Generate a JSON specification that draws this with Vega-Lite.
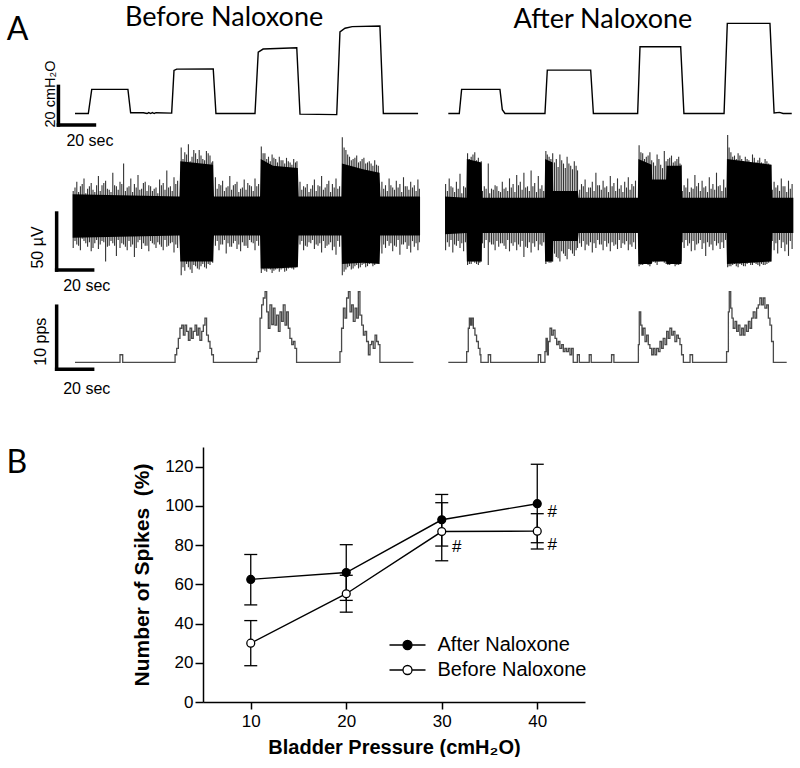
{
"$schema":"https://vega.github.io/schema/vega-lite/v6.json",
"padding":0,
"background":"white",
"columns":2,
"spacing":0,
"bounds":"flush",
"resolve":{"scale":{"x":"independent","y":"independent","fill":"independent"},"legend":{"fill":"independent"}},
"config":{"view":{"stroke":null},"font":"Liberation Sans","text":{"color":"black"}},
"datasets":{
"pres":[
{"side":"before","t":0,"v":0},{"side":"before","t":7.4,"v":0},{"side":"before","t":9.3,"v":12.5},{"side":"before","t":29.4,"v":12.5},{"side":"before","t":30.9,"v":0.4},{"side":"before","t":38,"v":0.4},{"side":"before","t":40,"v":0},{"side":"before","t":41,"v":0.5},{"side":"before","t":42,"v":0},{"side":"before","t":43,"v":0.5},{"side":"before","t":44,"v":0},{"side":"before","t":45,"v":0.4},{"side":"before","t":53.7,"v":0.2},{"side":"before","t":55,"v":22.3},{"side":"before","t":56.5,"v":23},{"side":"before","t":76.8,"v":23.1},{"side":"before","t":78.3,"v":0},{"side":"before","t":100,"v":0},{"side":"before","t":101.8,"v":31.8},{"side":"before","t":104.5,"v":33.4},{"side":"before","t":123.2,"v":34.1},{"side":"before","t":125,"v":-0.3},{"side":"before","t":145.4,"v":-0.6},{"side":"before","t":147.2,"v":42.3},{"side":"before","t":150,"v":44.2},{"side":"before","t":154,"v":45},{"side":"before","t":169.4,"v":45.3},{"side":"before","t":171.3,"v":0},{"side":"before","t":190.6,"v":0},
{"side":"after","t":0,"v":0},{"side":"after","t":6.1,"v":0},{"side":"after","t":7.4,"v":12.5},{"side":"after","t":28.7,"v":12.5},{"side":"after","t":30,"v":2},{"side":"after","t":31.5,"v":0},{"side":"after","t":53.7,"v":0},{"side":"after","t":55,"v":22.5},{"side":"after","t":79.1,"v":22.5},{"side":"after","t":80.6,"v":0},{"side":"after","t":105.2,"v":0},{"side":"after","t":106.5,"v":34.6},{"side":"after","t":129.1,"v":34.6},{"side":"after","t":130.9,"v":0},{"side":"after","t":153.2,"v":0},{"side":"after","t":155,"v":46.7},{"side":"after","t":178.7,"v":46.7},{"side":"after","t":181,"v":0.3},{"side":"after","t":184,"v":0.6},{"side":"after","t":186,"v":0},{"side":"after","t":190.8,"v":0}
],
"core":[
{"side":"before","t":-1.3,"lo":-19,"hi":19},{"side":"before","t":58,"lo":-17,"hi":17},{"side":"before","t":58.5,"lo":-40,"hi":48},{"side":"before","t":76.7,"lo":-40,"hi":45},{"side":"before","t":77.2,"lo":-17,"hi":17},{"side":"before","t":102.8,"lo":-17,"hi":17},{"side":"before","t":103.2,"lo":-46,"hi":50},{"side":"before","t":110,"lo":-46,"hi":44},{"side":"before","t":123.8,"lo":-45,"hi":42},{"side":"before","t":124.3,"lo":-17,"hi":17},{"side":"before","t":148,"lo":-17,"hi":17},{"side":"before","t":148.3,"lo":-42,"hi":46},{"side":"before","t":160,"lo":-41,"hi":41},{"side":"before","t":169.2,"lo":-42,"hi":38},{"side":"before","t":169.7,"lo":-17,"hi":17},{"side":"before","t":191.7,"lo":-17,"hi":17},
{"side":"after","t":-1.8,"lo":-16,"hi":17},{"side":"after","t":10,"lo":-15,"hi":16},{"side":"after","t":10.3,"lo":-40,"hi":50},{"side":"after","t":18.4,"lo":-40,"hi":47},{"side":"after","t":18.8,"lo":-15,"hi":16},{"side":"after","t":53.5,"lo":-15,"hi":16},{"side":"after","t":53.8,"lo":-40,"hi":50},{"side":"after","t":58,"lo":-40,"hi":47},{"side":"after","t":58.3,"lo":-22,"hi":22},{"side":"after","t":72,"lo":-22,"hi":22},{"side":"after","t":72.4,"lo":-15,"hi":16},{"side":"after","t":105.3,"lo":-15,"hi":16},{"side":"after","t":105.6,"lo":-42,"hi":50},{"side":"after","t":113,"lo":-42,"hi":45},{"side":"after","t":113.3,"lo":-40,"hi":32},{"side":"after","t":121,"lo":-40,"hi":32},{"side":"after","t":121.3,"lo":-42,"hi":44},{"side":"after","t":129.5,"lo":-42,"hi":44},{"side":"after","t":129.9,"lo":-15,"hi":16},{"side":"after","t":154.5,"lo":-15,"hi":16},{"side":"after","t":154.8,"lo":-42,"hi":50},{"side":"after","t":179.5,"lo":-40,"hi":45},{"side":"after","t":179.9,"lo":-15,"hi":16},{"side":"after","t":191.7,"lo":-15,"hi":16}
],
"spk":[
{"side":"before","t":-1,"hi":22,"lo":-28},{"side":"before","t":1,"hi":30,"lo":-25},{"side":"before","t":3,"hi":26,"lo":-30},{"side":"before","t":5,"hi":33,"lo":-22},{"side":"before","t":7,"hi":24,"lo":-27},{"side":"before","t":9,"hi":29,"lo":-31},{"side":"before","t":11,"hi":21,"lo":-24},{"side":"before","t":13,"hi":35,"lo":-29},{"side":"before","t":15,"hi":27,"lo":-22},{"side":"before","t":17,"hi":31,"lo":-40},{"side":"before","t":19,"hi":23,"lo":-26},{"side":"before","t":21,"hi":38,"lo":-24},{"side":"before","t":23,"hi":26,"lo":-35},{"side":"before","t":25,"hi":30,"lo":-28},{"side":"before","t":27,"hi":46,"lo":-25},{"side":"before","t":29,"hi":25,"lo":-30},{"side":"before","t":31,"hi":33,"lo":-27},{"side":"before","t":33,"hi":28,"lo":-36},{"side":"before","t":35,"hi":36,"lo":-23},{"side":"before","t":37,"hi":24,"lo":-29},{"side":"before","t":39,"hi":30,"lo":-26},{"side":"before","t":41,"hi":27,"lo":-31},{"side":"before","t":43,"hi":22,"lo":-24},{"side":"before","t":45,"hi":25,"lo":-28},{"side":"before","t":47,"hi":32,"lo":-25},{"side":"before","t":49,"hi":29,"lo":-30},{"side":"before","t":51,"hi":40,"lo":-27},{"side":"before","t":53,"hi":26,"lo":-24},{"side":"before","t":55,"hi":34,"lo":-32},{"side":"before","t":57,"hi":31,"lo":-28},
{"side":"before","t":0,"hi":25,"lo":-22},{"side":"before","t":2,"hi":21,"lo":-26},{"side":"before","t":4,"hi":28,"lo":-20},{"side":"before","t":6,"hi":20,"lo":-24},{"side":"before","t":8,"hi":26,"lo":-23},{"side":"before","t":10,"hi":23,"lo":-28},{"side":"before","t":12,"hi":27,"lo":-21},{"side":"before","t":14,"hi":22,"lo":-25},{"side":"before","t":16,"hi":29,"lo":-23},{"side":"before","t":18,"hi":24,"lo":-27},{"side":"before","t":20,"hi":21,"lo":-22},{"side":"before","t":22,"hi":27,"lo":-26},{"side":"before","t":24,"hi":23,"lo":-21},{"side":"before","t":26,"hi":28,"lo":-24},{"side":"before","t":28,"hi":22,"lo":-27},{"side":"before","t":30,"hi":26,"lo":-22},{"side":"before","t":32,"hi":21,"lo":-25},{"side":"before","t":34,"hi":25,"lo":-28},{"side":"before","t":36,"hi":23,"lo":-21},{"side":"before","t":38,"hi":29,"lo":-24},{"side":"before","t":40,"hi":22,"lo":-26},{"side":"before","t":42,"hi":26,"lo":-22},{"side":"before","t":44,"hi":24,"lo":-25},{"side":"before","t":46,"hi":20,"lo":-23},{"side":"before","t":48,"hi":27,"lo":-27},{"side":"before","t":50,"hi":23,"lo":-21},{"side":"before","t":52,"hi":25,"lo":-26},{"side":"before","t":54,"hi":22,"lo":-23},{"side":"before","t":56,"hi":28,"lo":-25},
{"side":"before","t":59,"hi":60,"lo":-52},{"side":"before","t":61,"hi":56,"lo":-48},{"side":"before","t":63,"hi":63,"lo":-45},{"side":"before","t":65,"hi":52,"lo":-50},{"side":"before","t":67,"hi":55,"lo":-44},{"side":"before","t":69,"hi":58,"lo":-47},{"side":"before","t":71,"hi":50,"lo":-42},{"side":"before","t":73,"hi":57,"lo":-46},{"side":"before","t":75,"hi":53,"lo":-43},{"side":"before","t":76.5,"hi":48,"lo":-41},
{"side":"before","t":60,"hi":50,"lo":-45},{"side":"before","t":62,"hi":54,"lo":-42},{"side":"before","t":64,"hi":48,"lo":-47},{"side":"before","t":66,"hi":58,"lo":-43},{"side":"before","t":68,"hi":50,"lo":-46},{"side":"before","t":70,"hi":53,"lo":-44},{"side":"before","t":72,"hi":49,"lo":-45},{"side":"before","t":74,"hi":55,"lo":-42},{"side":"before","t":76,"hi":47,"lo":-40},
{"side":"before","t":78,"hi":34,"lo":-26},{"side":"before","t":80,"hi":28,"lo":-30},{"side":"before","t":82,"hi":31,"lo":-25},{"side":"before","t":84,"hi":25,"lo":-33},{"side":"before","t":86,"hi":35,"lo":-27},{"side":"before","t":88,"hi":27,"lo":-24},{"side":"before","t":90,"hi":30,"lo":-29},{"side":"before","t":92,"hi":24,"lo":-31},{"side":"before","t":94,"hi":32,"lo":-26},{"side":"before","t":96,"hi":29,"lo":-28},{"side":"before","t":98,"hi":26,"lo":-23},{"side":"before","t":100,"hi":33,"lo":-30},{"side":"before","t":102,"hi":28,"lo":-26},
{"side":"before","t":79,"hi":24,"lo":-22},{"side":"before","t":81,"hi":27,"lo":-25},{"side":"before","t":83,"hi":22,"lo":-21},{"side":"before","t":85,"hi":26,"lo":-24},{"side":"before","t":87,"hi":23,"lo":-27},{"side":"before","t":89,"hi":28,"lo":-22},{"side":"before","t":91,"hi":21,"lo":-25},{"side":"before","t":93,"hi":25,"lo":-23},{"side":"before","t":95,"hi":23,"lo":-26},{"side":"before","t":97,"hi":27,"lo":-21},{"side":"before","t":99,"hi":22,"lo":-24},{"side":"before","t":101,"hi":26,"lo":-22},
{"side":"before","t":103.5,"hi":61,"lo":-50},{"side":"before","t":105.5,"hi":55,"lo":-48},{"side":"before","t":107.5,"hi":52,"lo":-46},{"side":"before","t":109.5,"hi":54,"lo":-50},{"side":"before","t":111.5,"hi":50,"lo":-47},{"side":"before","t":113.5,"hi":52,"lo":-49},{"side":"before","t":115.5,"hi":49,"lo":-46},{"side":"before","t":117.5,"hi":51,"lo":-48},{"side":"before","t":119.5,"hi":47,"lo":-45},{"side":"before","t":121.5,"hi":50,"lo":-47},{"side":"before","t":123.3,"hi":48,"lo":-44},
{"side":"before","t":104.5,"hi":55,"lo":-47},{"side":"before","t":106.5,"hi":50,"lo":-49},{"side":"before","t":108.5,"hi":48,"lo":-47},{"side":"before","t":110.5,"hi":51,"lo":-48},{"side":"before","t":112.5,"hi":47,"lo":-46},{"side":"before","t":114.5,"hi":49,"lo":-47},{"side":"before","t":116.5,"hi":46,"lo":-49},{"side":"before","t":118.5,"hi":48,"lo":-46},{"side":"before","t":120.5,"hi":45,"lo":-46},{"side":"before","t":122.5,"hi":47,"lo":-45},
{"side":"before","t":125,"hi":30,"lo":-25},{"side":"before","t":127,"hi":26,"lo":-30},{"side":"before","t":129,"hi":28,"lo":-27},{"side":"before","t":131,"hi":24,"lo":-24},{"side":"before","t":133,"hi":32,"lo":-29},{"side":"before","t":135,"hi":27,"lo":-26},{"side":"before","t":137,"hi":35,"lo":-32},{"side":"before","t":139,"hi":25,"lo":-28},{"side":"before","t":141,"hi":31,"lo":-25},{"side":"before","t":143,"hi":28,"lo":-30},{"side":"before","t":145,"hi":33,"lo":-34},{"side":"before","t":147,"hi":26,"lo":-27},
{"side":"before","t":126,"hi":23,"lo":-22},{"side":"before","t":128,"hi":25,"lo":-26},{"side":"before","t":130,"hi":21,"lo":-23},{"side":"before","t":132,"hi":27,"lo":-21},{"side":"before","t":134,"hi":22,"lo":-25},{"side":"before","t":136,"hi":26,"lo":-24},{"side":"before","t":138,"hi":23,"lo":-22},{"side":"before","t":140,"hi":28,"lo":-26},{"side":"before","t":142,"hi":21,"lo":-23},{"side":"before","t":144,"hi":25,"lo":-27},{"side":"before","t":146,"hi":24,"lo":-22},
{"side":"before","t":148.5,"hi":69,"lo":-52},{"side":"before","t":150.5,"hi":58,"lo":-47},{"side":"before","t":152.5,"hi":52,"lo":-44},{"side":"before","t":154.5,"hi":50,"lo":-46},{"side":"before","t":156.5,"hi":53,"lo":-43},{"side":"before","t":158.5,"hi":48,"lo":-45},{"side":"before","t":160.5,"hi":51,"lo":-42},{"side":"before","t":162.5,"hi":47,"lo":-44},{"side":"before","t":164.5,"hi":46,"lo":-41},{"side":"before","t":166.5,"hi":49,"lo":-43},{"side":"before","t":168.5,"hi":44,"lo":-40},
{"side":"before","t":149.5,"hi":60,"lo":-49},{"side":"before","t":151.5,"hi":54,"lo":-45},{"side":"before","t":153.5,"hi":49,"lo":-47},{"side":"before","t":155.5,"hi":51,"lo":-44},{"side":"before","t":157.5,"hi":47,"lo":-46},{"side":"before","t":159.5,"hi":50,"lo":-43},{"side":"before","t":161.5,"hi":46,"lo":-45},{"side":"before","t":163.5,"hi":48,"lo":-42},{"side":"before","t":165.5,"hi":44,"lo":-44},{"side":"before","t":167.5,"hi":45,"lo":-41},
{"side":"before","t":170.5,"hi":30,"lo":-33},{"side":"before","t":172.5,"hi":27,"lo":-28},{"side":"before","t":174.5,"hi":33,"lo":-26},{"side":"before","t":176.5,"hi":25,"lo":-31},{"side":"before","t":178.5,"hi":31,"lo":-27},{"side":"before","t":180.5,"hi":28,"lo":-34},{"side":"before","t":182.5,"hi":34,"lo":-25},{"side":"before","t":184.5,"hi":26,"lo":-29},{"side":"before","t":186.5,"hi":30,"lo":-32},{"side":"before","t":188.5,"hi":27,"lo":-27},{"side":"before","t":190.5,"hi":32,"lo":-30},
{"side":"before","t":171.5,"hi":24,"lo":-25},{"side":"before","t":173.5,"hi":22,"lo":-22},{"side":"before","t":175.5,"hi":27,"lo":-24},{"side":"before","t":177.5,"hi":23,"lo":-26},{"side":"before","t":179.5,"hi":25,"lo":-21},{"side":"before","t":181.5,"hi":21,"lo":-25},{"side":"before","t":183.5,"hi":26,"lo":-23},{"side":"before","t":185.5,"hi":23,"lo":-26},{"side":"before","t":187.5,"hi":25,"lo":-22},{"side":"before","t":189.5,"hi":22,"lo":-24},{"side":"before","t":191.3,"hi":24,"lo":-23},
{"side":"after","t":-1.5,"hi":28,"lo":-30},{"side":"after","t":0.5,"hi":33,"lo":-27},{"side":"after","t":2.5,"hi":25,"lo":-32},{"side":"after","t":4.5,"hi":30,"lo":-26},{"side":"after","t":6.5,"hi":37,"lo":-28},{"side":"after","t":8.5,"hi":26,"lo":-31},
{"side":"after","t":-0.5,"hi":22,"lo":-23},{"side":"after","t":1.5,"hi":26,"lo":-21},{"side":"after","t":3.5,"hi":21,"lo":-25},{"side":"after","t":5.5,"hi":24,"lo":-22},{"side":"after","t":7.5,"hi":20,"lo":-24},{"side":"after","t":9.5,"hi":25,"lo":-23},
{"side":"after","t":10.7,"hi":55,"lo":-43},{"side":"after","t":12.7,"hi":52,"lo":-42},{"side":"after","t":14.7,"hi":56,"lo":-41},{"side":"after","t":16.7,"hi":51,"lo":-43},{"side":"after","t":18.3,"hi":48,"lo":-40},
{"side":"after","t":11.7,"hi":50,"lo":-42},{"side":"after","t":13.7,"hi":54,"lo":-40},{"side":"after","t":15.7,"hi":49,"lo":-42},{"side":"after","t":17.5,"hi":46,"lo":-41},
{"side":"after","t":20,"hi":26,"lo":-28},{"side":"after","t":22.2,"hi":46,"lo":-43},{"side":"after","t":24,"hi":24,"lo":-25},{"side":"after","t":26,"hi":27,"lo":-30},{"side":"after","t":28,"hi":22,"lo":-27},{"side":"after","t":30,"hi":30,"lo":-24},{"side":"after","t":32,"hi":25,"lo":-29},{"side":"after","t":34,"hi":33,"lo":-31},{"side":"after","t":36,"hi":28,"lo":-26},{"side":"after","t":38,"hi":36,"lo":-30},{"side":"after","t":40,"hi":30,"lo":-27},{"side":"after","t":42,"hi":38,"lo":-36},{"side":"after","t":44,"hi":26,"lo":-28},{"side":"after","t":46,"hi":40,"lo":-32},{"side":"after","t":48,"hi":29,"lo":-27},{"side":"after","t":50,"hi":35,"lo":-30},{"side":"after","t":52,"hi":27,"lo":-26},
{"side":"after","t":19,"hi":22,"lo":-24},{"side":"after","t":21,"hi":24,"lo":-21},{"side":"after","t":23,"hi":20,"lo":-23},{"side":"after","t":25,"hi":23,"lo":-25},{"side":"after","t":27,"hi":26,"lo":-22},{"side":"after","t":29,"hi":21,"lo":-24},{"side":"after","t":31,"hi":24,"lo":-26},{"side":"after","t":33,"hi":22,"lo":-21},{"side":"after","t":35,"hi":25,"lo":-24},{"side":"after","t":37,"hi":21,"lo":-23},{"side":"after","t":39,"hi":27,"lo":-25},{"side":"after","t":41,"hi":23,"lo":-22},{"side":"after","t":43,"hi":25,"lo":-27},{"side":"after","t":45,"hi":22,"lo":-23},{"side":"after","t":47,"hi":26,"lo":-24},{"side":"after","t":49,"hi":21,"lo":-22},{"side":"after","t":51,"hi":24,"lo":-25},{"side":"after","t":53,"hi":22,"lo":-23},
{"side":"after","t":54.2,"hi":57,"lo":-42},{"side":"after","t":56,"hi":52,"lo":-41},{"side":"after","t":58,"hi":55,"lo":-40},{"side":"after","t":60,"hi":50,"lo":-36},{"side":"after","t":62,"hi":54,"lo":-40},{"side":"after","t":64,"hi":46,"lo":-33},{"side":"after","t":66,"hi":52,"lo":-38},{"side":"after","t":68,"hi":44,"lo":-30},{"side":"after","t":70,"hi":48,"lo":-35},{"side":"after","t":71.8,"hi":40,"lo":-28},
{"side":"after","t":55,"hi":54,"lo":-40},{"side":"after","t":57,"hi":50,"lo":-41},{"side":"after","t":59,"hi":47,"lo":-33},{"side":"after","t":61,"hi":43,"lo":-37},{"side":"after","t":63,"hi":49,"lo":-31},{"side":"after","t":65,"hi":42,"lo":-35},{"side":"after","t":67,"hi":46,"lo":-29},{"side":"after","t":69,"hi":41,"lo":-33},{"side":"after","t":71,"hi":44,"lo":-30},
{"side":"after","t":74,"hi":28,"lo":-27},{"side":"after","t":76,"hi":32,"lo":-30},{"side":"after","t":78,"hi":25,"lo":-26},{"side":"after","t":80,"hi":30,"lo":-32},{"side":"after","t":82,"hi":38,"lo":-28},{"side":"after","t":84,"hi":27,"lo":-25},{"side":"after","t":86,"hi":31,"lo":-30},{"side":"after","t":88,"hi":26,"lo":-27},{"side":"after","t":90,"hi":35,"lo":-31},{"side":"after","t":92,"hi":29,"lo":-26},{"side":"after","t":94,"hi":33,"lo":-29},{"side":"after","t":96,"hi":27,"lo":-28},{"side":"after","t":98,"hi":30,"lo":-25},{"side":"after","t":100,"hi":34,"lo":-30},{"side":"after","t":102,"hi":28,"lo":-27},{"side":"after","t":104,"hi":31,"lo":-29},
{"side":"after","t":73,"hi":23,"lo":-24},{"side":"after","t":75,"hi":26,"lo":-22},{"side":"after","t":77,"hi":21,"lo":-25},{"side":"after","t":79,"hi":25,"lo":-23},{"side":"after","t":81,"hi":22,"lo":-24},{"side":"after","t":83,"hi":27,"lo":-21},{"side":"after","t":85,"hi":23,"lo":-25},{"side":"after","t":87,"hi":25,"lo":-22},{"side":"after","t":89,"hi":21,"lo":-24},{"side":"after","t":91,"hi":26,"lo":-23},{"side":"after","t":93,"hi":22,"lo":-25},{"side":"after","t":95,"hi":24,"lo":-21},{"side":"after","t":97,"hi":21,"lo":-24},{"side":"after","t":99,"hi":25,"lo":-22},{"side":"after","t":101,"hi":23,"lo":-25},{"side":"after","t":103,"hi":26,"lo":-23},
{"side":"after","t":106,"hi":62,"lo":-44},{"side":"after","t":108,"hi":55,"lo":-43},{"side":"after","t":110,"hi":52,"lo":-42},{"side":"after","t":112,"hi":56,"lo":-44},{"side":"after","t":114,"hi":47,"lo":-40},{"side":"after","t":116,"hi":54,"lo":-43},{"side":"after","t":118,"hi":45,"lo":-38},{"side":"after","t":120,"hi":57,"lo":-41},{"side":"after","t":122,"hi":50,"lo":-43},{"side":"after","t":124,"hi":53,"lo":-42},{"side":"after","t":126,"hi":48,"lo":-44},{"side":"after","t":128,"hi":52,"lo":-43},{"side":"after","t":129.4,"hi":45,"lo":-40},
{"side":"after","t":107,"hi":56,"lo":-43},{"side":"after","t":109,"hi":50,"lo":-42},{"side":"after","t":111,"hi":53,"lo":-43},{"side":"after","t":113,"hi":49,"lo":-41},{"side":"after","t":115,"hi":44,"lo":-41},{"side":"after","t":117,"hi":50,"lo":-40},{"side":"after","t":119,"hi":42,"lo":-39},{"side":"after","t":121,"hi":48,"lo":-42},{"side":"after","t":123,"hi":51,"lo":-43},{"side":"after","t":125,"hi":47,"lo":-42},{"side":"after","t":127,"hi":50,"lo":-43},{"side":"after","t":128.7,"hi":46,"lo":-41},
{"side":"after","t":131,"hi":27,"lo":-28},{"side":"after","t":133,"hi":33,"lo":-26},{"side":"after","t":135,"hi":25,"lo":-31},{"side":"after","t":137,"hi":36,"lo":-30},{"side":"after","t":139,"hi":29,"lo":-24},{"side":"after","t":141,"hi":31,"lo":-29},{"side":"after","t":143,"hi":26,"lo":-35},{"side":"after","t":145,"hi":34,"lo":-27},{"side":"after","t":147,"hi":28,"lo":-30},{"side":"after","t":149,"hi":38,"lo":-26},{"side":"after","t":151,"hi":27,"lo":-29},{"side":"after","t":153,"hi":32,"lo":-28},
{"side":"after","t":130,"hi":22,"lo":-23},{"side":"after","t":132,"hi":25,"lo":-21},{"side":"after","t":134,"hi":21,"lo":-24},{"side":"after","t":136,"hi":24,"lo":-22},{"side":"after","t":138,"hi":26,"lo":-25},{"side":"after","t":140,"hi":22,"lo":-21},{"side":"after","t":142,"hi":25,"lo":-24},{"side":"after","t":144,"hi":21,"lo":-23},{"side":"after","t":146,"hi":24,"lo":-25},{"side":"after","t":148,"hi":23,"lo":-22},{"side":"after","t":150,"hi":26,"lo":-24},{"side":"after","t":152,"hi":22,"lo":-23},{"side":"after","t":154,"hi":25,"lo":-21},
{"side":"after","t":155.2,"hi":71,"lo":-45},{"side":"after","t":157,"hi":56,"lo":-44},{"side":"after","t":159,"hi":53,"lo":-42},{"side":"after","t":161,"hi":55,"lo":-45},{"side":"after","t":163,"hi":50,"lo":-43},{"side":"after","t":165,"hi":52,"lo":-44},{"side":"after","t":167,"hi":49,"lo":-41},{"side":"after","t":169,"hi":54,"lo":-43},{"side":"after","t":171,"hi":47,"lo":-42},{"side":"after","t":173,"hi":51,"lo":-44},{"side":"after","t":175,"hi":46,"lo":-43},{"side":"after","t":177,"hi":48,"lo":-42},{"side":"after","t":179.2,"hi":45,"lo":-40},
{"side":"after","t":156,"hi":60,"lo":-44},{"side":"after","t":158,"hi":52,"lo":-43},{"side":"after","t":160,"hi":50,"lo":-44},{"side":"after","t":162,"hi":53,"lo":-42},{"side":"after","t":164,"hi":48,"lo":-44},{"side":"after","t":166,"hi":50,"lo":-42},{"side":"after","t":168,"hi":47,"lo":-43},{"side":"after","t":170,"hi":51,"lo":-41},{"side":"after","t":172,"hi":49,"lo":-43},{"side":"after","t":174,"hi":47,"lo":-42},{"side":"after","t":176,"hi":50,"lo":-43},{"side":"after","t":178,"hi":46,"lo":-41},
{"side":"after","t":181,"hi":30,"lo":-30},{"side":"after","t":183,"hi":27,"lo":-33},{"side":"after","t":185,"hi":33,"lo":-28},{"side":"after","t":187,"hi":26,"lo":-31},{"side":"after","t":189,"hi":31,"lo":-35},{"side":"after","t":191,"hi":28,"lo":-29},
{"side":"after","t":180,"hi":23,"lo":-22},{"side":"after","t":182,"hi":25,"lo":-24},{"side":"after","t":184,"hi":22,"lo":-21},{"side":"after","t":186,"hi":26,"lo":-23},{"side":"after","t":188,"hi":21,"lo":-25},{"side":"after","t":190,"hi":24,"lo":-22}
],
"rate":[
{"side":"before","t":0,"v":0},{"side":"before","t":25,"v":1.2},{"side":"before","t":26.5,"v":0},{"side":"before","t":55.6,"v":1.2},{"side":"before","t":56.5,"v":2.2},{"side":"before","t":57.4,"v":3.8},{"side":"before","t":58.3,"v":5.4},{"side":"before","t":59.3,"v":5.9},{"side":"before","t":60.2,"v":4.3},{"side":"before","t":61.1,"v":5.9},{"side":"before","t":62,"v":4.9},{"side":"before","t":63,"v":3.5},{"side":"before","t":63.9,"v":5.4},{"side":"before","t":64.8,"v":3.8},{"side":"before","t":65.7,"v":4.9},{"side":"before","t":66.7,"v":5.9},{"side":"before","t":67.6,"v":4.3},{"side":"before","t":68.5,"v":5.4},{"side":"before","t":69.4,"v":3.5},{"side":"before","t":70.4,"v":4.9},{"side":"before","t":71.3,"v":5.9},{"side":"before","t":72.2,"v":7.0},{"side":"before","t":73.1,"v":4.3},{"side":"before","t":74.1,"v":3.3},{"side":"before","t":75,"v":2.2},{"side":"before","t":75.9,"v":1.2},{"side":"before","t":76.9,"v":0},
{"side":"before","t":100.9,"v":0.6},{"side":"before","t":101.9,"v":1.7},{"side":"before","t":102.8,"v":7.0},{"side":"before","t":103.7,"v":9.1},{"side":"before","t":104.6,"v":10.2},{"side":"before","t":105.6,"v":11.2},{"side":"before","t":106.5,"v":8.0},{"side":"before","t":107.4,"v":5.4},{"side":"before","t":108.3,"v":9.1},{"side":"before","t":109.3,"v":6.0},{"side":"before","t":110.2,"v":8.6},{"side":"before","t":111.1,"v":5.9},{"side":"before","t":112,"v":7.5},{"side":"before","t":113,"v":4.9},{"side":"before","t":113.9,"v":8.0},{"side":"before","t":114.8,"v":6.5},{"side":"before","t":115.7,"v":9.1},{"side":"before","t":116.7,"v":5.9},{"side":"before","t":117.6,"v":8.0},{"side":"before","t":118.5,"v":5.4},{"side":"before","t":119.4,"v":3.8},{"side":"before","t":120.4,"v":2.8},{"side":"before","t":121.3,"v":3.3},{"side":"before","t":122.2,"v":2.2},{"side":"before","t":123.1,"v":0},
{"side":"before","t":147.2,"v":1.7},{"side":"before","t":148.1,"v":5.4},{"side":"before","t":149.1,"v":8.6},{"side":"before","t":150,"v":7.0},{"side":"before","t":150.9,"v":10.2},{"side":"before","t":151.9,"v":11.2},{"side":"before","t":152.8,"v":8.0},{"side":"before","t":153.7,"v":9.1},{"side":"before","t":154.6,"v":6.5},{"side":"before","t":155.6,"v":8.6},{"side":"before","t":156.5,"v":7.0},{"side":"before","t":157.4,"v":11.2},{"side":"before","t":158.3,"v":7.5},{"side":"before","t":159.3,"v":5.9},{"side":"before","t":160.2,"v":4.3},{"side":"before","t":161.1,"v":4.9},{"side":"before","t":162,"v":3.3},{"side":"before","t":163,"v":1.2},{"side":"before","t":163.9,"v":2.8},{"side":"before","t":164.8,"v":3.3},{"side":"before","t":165.7,"v":2.2},{"side":"before","t":166.7,"v":4.3},{"side":"before","t":167.6,"v":3.3},{"side":"before","t":168.5,"v":2.8},{"side":"before","t":169.4,"v":0},{"side":"before","t":188,"v":0},
{"side":"after","t":0,"v":0},{"side":"after","t":10.2,"v":1.7},{"side":"after","t":11.1,"v":5.4},{"side":"after","t":11.7,"v":7.0},{"side":"after","t":12.4,"v":5.9},{"side":"after","t":13.1,"v":7.0},{"side":"after","t":13.9,"v":5.4},{"side":"after","t":14.8,"v":4.3},{"side":"after","t":15.7,"v":3.3},{"side":"after","t":16.7,"v":2.2},{"side":"after","t":17.6,"v":1.2},{"side":"after","t":18.1,"v":0},{"side":"after","t":22.2,"v":1.2},{"side":"after","t":23.5,"v":0},{"side":"after","t":50,"v":1.2},{"side":"after","t":51.3,"v":0},
{"side":"after","t":53.7,"v":1.7},{"side":"after","t":54.3,"v":3.8},{"side":"after","t":55,"v":1.2},{"side":"after","t":55.6,"v":3.3},{"side":"after","t":56.5,"v":5.4},{"side":"after","t":57.4,"v":4.3},{"side":"after","t":58.3,"v":5.1},{"side":"after","t":59.3,"v":3.8},{"side":"after","t":60.2,"v":2.8},{"side":"after","t":61.1,"v":3.3},{"side":"after","t":62,"v":2.2},{"side":"after","t":63,"v":2.8},{"side":"after","t":63.9,"v":1.7},{"side":"after","t":64.8,"v":2.2},{"side":"after","t":65.7,"v":1.7},{"side":"after","t":66.7,"v":2.2},{"side":"after","t":67.6,"v":1.2},{"side":"after","t":68.5,"v":2.2},{"side":"after","t":69.4,"v":0},{"side":"after","t":71.7,"v":1.2},{"side":"after","t":72.8,"v":0},{"side":"after","t":78.3,"v":1.2},{"side":"after","t":79.4,"v":0},{"side":"after","t":90.7,"v":1.2},{"side":"after","t":92,"v":0},
{"side":"after","t":105.6,"v":2.8},{"side":"after","t":106.1,"v":8.0},{"side":"after","t":106.9,"v":5.9},{"side":"after","t":107.6,"v":4.3},{"side":"after","t":108.3,"v":5.4},{"side":"after","t":109.3,"v":3.3},{"side":"after","t":110.2,"v":4.3},{"side":"after","t":111.1,"v":2.8},{"side":"after","t":112,"v":2.2},{"side":"after","t":113,"v":1.2},{"side":"after","t":113.9,"v":2.2},{"side":"after","t":114.8,"v":1.2},{"side":"after","t":115.7,"v":2.2},{"side":"after","t":116.7,"v":1.7},{"side":"after","t":117.6,"v":3.3},{"side":"after","t":118.5,"v":2.2},{"side":"after","t":119.4,"v":3.8},{"side":"after","t":120.4,"v":2.8},{"side":"after","t":121.3,"v":4.9},{"side":"after","t":122.2,"v":3.8},{"side":"after","t":123.1,"v":5.4},{"side":"after","t":124.1,"v":4.3},{"side":"after","t":125,"v":4.9},{"side":"after","t":125.9,"v":3.3},{"side":"after","t":126.9,"v":4.3},{"side":"after","t":127.8,"v":3.8},{"side":"after","t":128.7,"v":2.8},{"side":"after","t":129.6,"v":1.2},{"side":"after","t":130.6,"v":0},{"side":"after","t":134.3,"v":1.2},{"side":"after","t":135.7,"v":0},
{"side":"after","t":154.6,"v":1.7},{"side":"after","t":155.6,"v":8.0},{"side":"after","t":156.1,"v":11.2},{"side":"after","t":156.9,"v":8.6},{"side":"after","t":157.6,"v":7.0},{"side":"after","t":158.3,"v":5.4},{"side":"after","t":159.3,"v":6.5},{"side":"after","t":160.2,"v":4.9},{"side":"after","t":161.1,"v":5.9},{"side":"after","t":162,"v":4.3},{"side":"after","t":163,"v":5.4},{"side":"after","t":163.9,"v":4.3},{"side":"after","t":164.8,"v":5.9},{"side":"after","t":165.7,"v":4.9},{"side":"after","t":166.7,"v":6.5},{"side":"after","t":167.6,"v":5.4},{"side":"after","t":168.5,"v":7.0},{"side":"after","t":169.4,"v":8.0},{"side":"after","t":170.4,"v":7.0},{"side":"after","t":171.3,"v":8.6},{"side":"after","t":172.2,"v":9.1},{"side":"after","t":173.1,"v":10.2},{"side":"after","t":174.1,"v":9.1},{"side":"after","t":175,"v":10.2},{"side":"after","t":175.9,"v":8.6},{"side":"after","t":176.9,"v":9.1},{"side":"after","t":177.8,"v":7.0},{"side":"after","t":178.7,"v":5.9},{"side":"after","t":179.6,"v":3.3},{"side":"after","t":180.6,"v":0},{"side":"after","t":188,"v":0}
],
"bars":[
{"trace":"pressure","t":-9.2,"t2":-9.2,"v":-5.96,"v2":14.04},{"trace":"pressure","t":-9.2,"t2":10.8,"v":-5.96,"v2":-5.96},
{"trace":"neural","t":-10.2,"t2":-10.2,"v":-47.4,"v2":2.6},{"trace":"neural","t":-10.2,"t2":9.8,"v":-47.4,"v2":-47.4},
{"trace":"rate","t":-10.2,"t2":-10.2,"v":-1.1,"v2":8.9},{"trace":"rate","t":-10.2,"t2":9.8,"v":-1.1,"v2":-1.1}
],
"panelB":[
{"group":"After Naloxone","pressure":10,"mean":62.5,"lo":49.5,"hi":75.2},
{"group":"After Naloxone","pressure":20,"mean":66,"lo":51.8,"hi":80.2},
{"group":"After Naloxone","pressure":30,"mean":92.9,"lo":79.5,"hi":105.8},
{"group":"After Naloxone","pressure":40,"mean":101.1,"lo":81.2,"hi":121.2},
{"group":"Before Naloxone","pressure":10,"mean":30,"lo":18.5,"hi":41.5},
{"group":"Before Naloxone","pressure":20,"mean":55.2,"lo":45.8,"hi":64.6},
{"group":"Before Naloxone","pressure":30,"mean":86.9,"lo":72,"hi":101.6},
{"group":"Before Naloxone","pressure":40,"mean":87.1,"lo":78,"hi":96}
],
"hash":[{"pressure":30,"y":79,"label":"#"},{"pressure":40,"y":97,"label":"#"},{"pressure":40,"y":80,"label":"#"}]
},
"concat":[
{
"width":203,"height":130,
"layer":[
{"data":{"name":"pres"},"transform":[{"filter":"datum.side==='before'"}],"mark":{"type":"line","color":"black","strokeWidth":1.4},
 "encoding":{"x":{"field":"t","type":"quantitative","scale":{"domain":[-41.67,71.11],"nice":false,"zero":false},"axis":null},
 "y":{"field":"v","type":"quantitative","scale":{"domain":[-8.55,58.81],"nice":false,"zero":false},"axis":null}}},
{"data":{"name":"bars"},"transform":[{"filter":"datum.trace==='pressure'"}],"mark":{"type":"rule","color":"black","strokeWidth":3.5,"strokeCap":"square"},
 "encoding":{"x":{"field":"t","type":"quantitative"},"x2":{"field":"t2"},"y":{"field":"v","type":"quantitative"},"y2":{"field":"v2"}}},
{"data":{"values":[{}]},"mark":{"type":"text","text":"20 cmH₂O","angle":270,"fontSize":14.5,"font":"Liberation Sans","align":"center","baseline":"middle","color":"black"},"encoding":{"x":{"datum":-13.1},"y":{"datum":10.1}}},
{"data":{"values":[{}]},"mark":{"type":"text","text":"20 sec","fontSize":16,"font":"Liberation Sans","align":"center","baseline":"middle","color":"black"},"encoding":{"x":{"datum":8.3},"y":{"datum":-14.25}}},
{"data":{"values":[{}]},"mark":{"type":"text","text":"A","fontSize":32,"font":"Lato","align":"center","baseline":"middle","color":"black"},"encoding":{"x":{"datum":-31.9},"y":{"datum":43.3}}},
{"data":{"values":[{}]},"mark":{"type":"text","text":"Before Naloxone","fontSize":27,"font":"Lato","align":"center","baseline":"middle","color":"black"},"encoding":{"x":{"datum":82.8},"y":{"datum":49.5}}}
]
},
{
"width":597,"height":130,
"layer":[
{"data":{"name":"pres"},"transform":[{"filter":"datum.side==='after'"}],"mark":{"type":"line","color":"black","strokeWidth":1.4},
 "encoding":{"x":{"field":"t","type":"quantitative","scale":{"domain":[-136.28,195.39],"nice":false,"zero":false},"axis":null},
 "y":{"field":"v","type":"quantitative","scale":{"domain":[-8.55,58.81],"nice":false,"zero":false},"axis":null}}},
{"data":{"values":[{}]},"mark":{"type":"text","text":"After Naloxone","fontSize":27,"font":"Lato","align":"center","baseline":"middle","color":"black"},"encoding":{"x":{"datum":85.9},"y":{"datum":48.4}}}
]
},
{
"width":203,"height":150,
"layer":[
{"data":{"name":"spk"},"transform":[{"filter":"datum.side==='before'"}],"mark":{"type":"rule","color":"#333333","strokeWidth":1.1},
 "encoding":{"x":{"field":"t","type":"quantitative","scale":{"domain":[-41.67,71.11],"nice":false,"zero":false},"axis":null},
 "y":{"field":"lo","type":"quantitative","scale":{"domain":[-56.14,75.44],"nice":false,"zero":false},"axis":null},"y2":{"field":"hi"}}},
{"data":{"name":"core"},"transform":[{"filter":"datum.side==='before'"}],"mark":{"type":"area","color":"black","opacity":1},
 "encoding":{"x":{"field":"t","type":"quantitative"},"y":{"field":"lo","type":"quantitative"},"y2":{"field":"hi"}}},
{"data":{"name":"bars"},"transform":[{"filter":"datum.trace==='neural'"}],"mark":{"type":"rule","color":"black","strokeWidth":3.5,"strokeCap":"square"},
 "encoding":{"x":{"field":"t","type":"quantitative"},"x2":{"field":"t2"},"y":{"field":"v","type":"quantitative"},"y2":{"field":"v2"}}},
{"data":{"values":[{}]},"mark":{"type":"text","text":"50 µV","angle":270,"fontSize":16,"font":"Liberation Sans","align":"center","baseline":"middle","color":"black"},"encoding":{"x":{"datum":-20.4},"y":{"datum":-27.6}}},
{"data":{"values":[{}]},"mark":{"type":"text","text":"20 sec","fontSize":16,"font":"Liberation Sans","align":"center","baseline":"middle","color":"black"},"encoding":{"x":{"datum":6.5},"y":{"datum":-61.4}}}
]
},
{
"width":597,"height":150,
"layer":[
{"data":{"name":"spk"},"transform":[{"filter":"datum.side==='after'"}],"mark":{"type":"rule","color":"#333333","strokeWidth":1.1},
 "encoding":{"x":{"field":"t","type":"quantitative","scale":{"domain":[-136.28,195.39],"nice":false,"zero":false},"axis":null},
 "y":{"field":"lo","type":"quantitative","scale":{"domain":[-56.14,75.44],"nice":false,"zero":false},"axis":null},"y2":{"field":"hi"}}},
{"data":{"name":"core"},"transform":[{"filter":"datum.side==='after'"}],"mark":{"type":"area","color":"black","opacity":1},
 "encoding":{"x":{"field":"t","type":"quantitative"},"y":{"field":"lo","type":"quantitative"},"y2":{"field":"hi"}}}
]
},
{
"width":203,"height":167,
"layer":[
{"data":{"name":"rate"},"transform":[{"filter":"datum.side==='before'"}],"mark":{"type":"line","color":"#4a4a4a","strokeWidth":1.3,"interpolate":"step-after"},
 "encoding":{"x":{"field":"t","type":"quantitative","scale":{"domain":[-41.67,71.11],"nice":false,"zero":false},"axis":null},
 "y":{"field":"v","type":"quantitative","scale":{"domain":[-13.44,13.06],"nice":false,"zero":false},"axis":null}}},
{"data":{"name":"bars"},"transform":[{"filter":"datum.trace==='rate'"}],"mark":{"type":"rule","color":"black","strokeWidth":3.5,"strokeCap":"square"},
 "encoding":{"x":{"field":"t","type":"quantitative"},"x2":{"field":"t2"},"y":{"field":"v","type":"quantitative"},"y2":{"field":"v2"}}},
{"data":{"values":[{}]},"mark":{"type":"text","text":"10 pps","angle":270,"fontSize":16,"font":"Liberation Sans","align":"center","baseline":"middle","color":"black"},"encoding":{"x":{"datum":-19},"y":{"datum":3.27}}},
{"data":{"values":[{}]},"mark":{"type":"text","text":"20 sec","fontSize":16,"font":"Liberation Sans","align":"center","baseline":"middle","color":"black"},"encoding":{"x":{"datum":6.5},"y":{"datum":-4.24}}}
]
},
{
"width":597,"height":167,
"layer":[
{"data":{"name":"rate"},"transform":[{"filter":"datum.side==='after'"}],"mark":{"type":"line","color":"#4a4a4a","strokeWidth":1.3,"interpolate":"step-after"},
 "encoding":{"x":{"field":"t","type":"quantitative","scale":{"domain":[-136.28,195.39],"nice":false,"zero":false},"axis":null},
 "y":{"field":"v","type":"quantitative","scale":{"domain":[-13.44,13.06],"nice":false,"zero":false},"axis":null}}}
]
},
{
"width":203,"height":255,
"data":{"values":[{}]},
"mark":{"type":"text","text":""},
"encoding":{}
},
{
"width":382,"height":255,
"layer":[
{"data":{"name":"panelB"},"mark":{"type":"rule","color":"black","strokeWidth":1.3},
 "encoding":{"x":{"field":"pressure","type":"quantitative","scale":{"domain":[5,45],"nice":false,"zero":false},
   "axis":{"values":[10,20,30,40],"title":"Bladder Pressure (cmH₂O)","grid":false,"domainColor":"black","domainWidth":1.5,"tickColor":"black","tickWidth":1.5,"tickSize":7,"labelFontSize":17,"labelColor":"black","labelPadding":4,"labelFont":"Liberation Sans","titleFont":"Liberation Sans","titleFontSize":20,"titleFontWeight":"bold","titleColor":"black","titlePadding":8}},
  "y":{"field":"lo","type":"quantitative","scale":{"domain":[0,130],"nice":false,"zero":false},
   "axis":{"values":[0,20,40,60,80,100,120],"title":"Number of Spikes\u00a0 (%)","grid":false,"domainColor":"black","domainWidth":1.5,"tickColor":"black","tickWidth":1.5,"tickSize":8,"labelFontSize":17,"labelColor":"black","labelPadding":2,"labelFont":"Liberation Sans","titleFont":"Liberation Sans","titleFontSize":21,"titleFontWeight":"bold","titleColor":"black","titlePadding":12}},
  "y2":{"field":"hi"}}},
{"data":{"name":"panelB"},"mark":{"type":"point","shape":"M-1,0L1,0","size":169,"filled":false,"stroke":"black","strokeWidth":1.3,"opacity":1},
 "encoding":{"x":{"field":"pressure","type":"quantitative"},"y":{"field":"lo","type":"quantitative"}}},
{"data":{"name":"panelB"},"mark":{"type":"point","shape":"M-1,0L1,0","size":169,"filled":false,"stroke":"black","strokeWidth":1.3,"opacity":1},
 "encoding":{"x":{"field":"pressure","type":"quantitative"},"y":{"field":"hi","type":"quantitative"}}},
{"data":{"name":"panelB"},"mark":{"type":"line","color":"black","strokeWidth":1.4},
 "encoding":{"x":{"field":"pressure","type":"quantitative"},"y":{"field":"mean","type":"quantitative"},"detail":{"field":"group","type":"nominal"}}},
{"data":{"name":"panelB"},"mark":{"type":"point","shape":"circle","size":62,"filled":true,"stroke":"black","strokeWidth":1.3,"opacity":1},
 "encoding":{"x":{"field":"pressure","type":"quantitative"},"y":{"field":"mean","type":"quantitative"},
  "fill":{"field":"group","type":"nominal","scale":{"domain":["After Naloxone","Before Naloxone"],"range":["black","white"]},
   "legend":{"title":null,"orient":"none","legendX":194.5,"legendY":188,"symbolType":"M-4,0H-1M1,0H4M-1,0A1,1,0,1,1,1,0A1,1,0,1,1,-1,0Z","symbolSize":81,"symbolStrokeColor":"black","symbolStrokeWidth":1.3,"symbolOpacity":1,"labelFontSize":20,"labelFont":"Liberation Sans","labelColor":"black","labelOffset":20,"rowPadding":5,"padding":0}}}},
{"data":{"name":"hash"},"mark":{"type":"text","dx":15,"fontSize":17,"font":"Liberation Sans","align":"center","baseline":"middle","color":"black"},
 "encoding":{"x":{"field":"pressure","type":"quantitative"},"y":{"field":"y","type":"quantitative"},"text":{"field":"label"}}},
{"data":{"values":[{}]},"mark":{"type":"text","text":"B","fontSize":32,"font":"Lato","align":"center","baseline":"middle","color":"black"},"encoding":{"x":{"datum":-14.5},"y":{"datum":121.9}}}
]
}
]
}
